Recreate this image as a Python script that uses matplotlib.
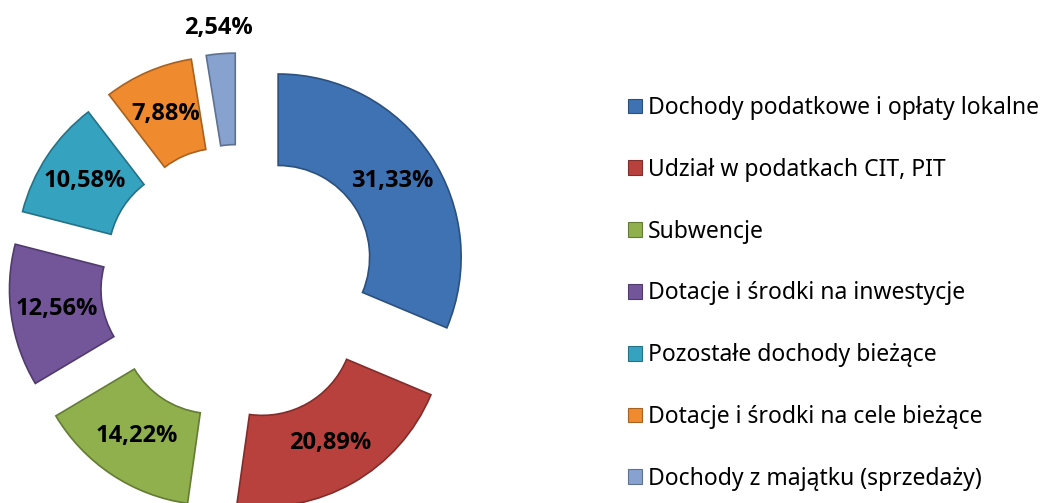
import numpy as np
import matplotlib.pyplot as plt
import matplotlib.colors as mcolors

# Data
categories = ['Dochody podatkowe i opłaty lokalne',
              'Udział w podatkach CIT, PIT',
              'Subwencje',
              'Dotacje i środki na inwestycje',
              'Pozostałe dochody bieżące',
              'Dotacje i środki na cele bieżące',
              'Dochody z majątku (sprzedaży)']
shares = [31.33, 20.89, 14.22, 12.56, 10.58, 7.88, 2.54]
colors = ['#3f72b3', '#b8413e', '#8fb04c', '#73559a', '#35a3c0', '#ef8a2e', '#87a2cf']

W, H = 1047, 503
fig = plt.figure(figsize=(W / 100, H / 100), dpi=100)
ax = fig.add_axes([0, 0, 1, 1])

# donut geometry (pixels)
cx, cy, R = 239, H - 283, 183
shift = 47   # pie explode is in data units
edge = [mcolors.to_hex(np.array(mcolors.to_rgb(c)) * 0.7) for c in colors]

wedges, texts, autotexts = ax.pie(
    shares, colors=colors, radius=R, center=(cx, cy), startangle=90,
    counterclock=False, explode=[shift] * len(shares),
    autopct=lambda p: '', pctdistance=0.75,
    wedgeprops=dict(width=0.5 * R, linewidth=1.2), frame=True)
ax.set_xlim(0, W)
ax.set_ylim(0, H)
ax.set_aspect('equal')
ax.axis('off')

for w, e in zip(wedges, edge):
    w.set_edgecolor(e)

# labels from the values
for i, (t, v) in enumerate(zip(autotexts, shares)):
    t.set_text(f'{v:.2f}%'.replace('.', ','))
    t.set_fontsize(17)
    t.set_fontweight('bold')
    t.set_fontfamily('Open Sans')
    t.set_color('black')
    if i == len(shares) - 1:
        # small slice: label above the wedge
        x, y = t.get_position()
        dx, dy = x - cx, y - cy
        d = np.hypot(dx, dy)
        scale = (shift + 1.14 * R) / d
        t.set_position((cx + dx * scale, cy + dy * scale))

handles = [plt.Rectangle((0, 0), 1, 1, facecolor=c, edgecolor=e, linewidth=0.8)
           for c, e in zip(colors, edge)]
leg = fig.legend(handles, categories, loc='upper left',
                 bbox_to_anchor=(628 / W, 1 - 96 / H),
                 frameon=False, prop={'family': ['Noto Sans', 'DejaVu Sans'], 'size': 16.5},
                 handlelength=0.62, handleheight=0.62, handletextpad=0.25,
                 labelspacing=1.65, borderaxespad=0, borderpad=0)

fig.savefig('out.png', dpi=100)
